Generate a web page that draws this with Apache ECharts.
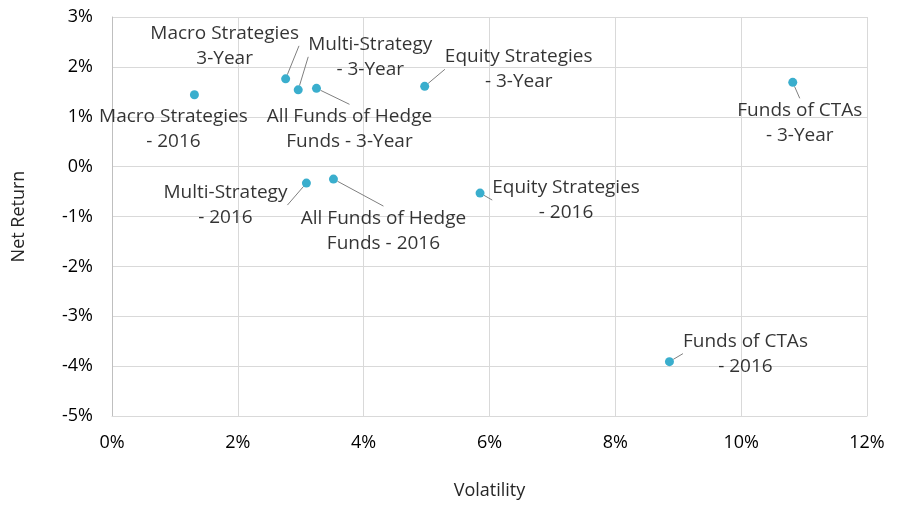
<!DOCTYPE html>
<html>
<head>
<meta charset="utf-8">
<title>Volatility vs Net Return</title>
<script src="https://cdn.jsdelivr.net/npm/echarts@6/dist/echarts.min.js"></script>
<style>
  html, body { margin: 0; padding: 0; background: #fff; }
  #chart { width: 898px; height: 505px; }
</style>
</head>
<body>
<div id="chart"></div>
<script>
// data (percent)
var names = [
  'Macro Strategies\n3-Year',
  'Multi-Strategy\n- 3-Year',
  'All Funds of Hedge\nFunds - 3-Year',
  'Equity Strategies\n- 3-Year',
  'Funds of CTAs\n- 3-Year',
  'Macro Strategies\n- 2016',
  'Multi-Strategy\n- 2016',
  'All Funds of Hedge\nFunds - 2016',
  'Equity Strategies\n- 2016',
  'Funds of CTAs\n- 2016'
];
var volatility = [2.76, 2.96, 3.25, 4.97, 10.82, 1.31, 3.09, 3.52, 5.85, 8.86];
var netReturn  = [1.76, 1.54, 1.57, 1.61, 1.69, 1.44, -0.33, -0.25, -0.53, -3.91];
var xTicks = { min: 0, max: 12, step: 2 };
var yTicks = { min: -5, max: 3, step: 1 };

// where each label sits relative to its dot (px)
var labelShift = [
  [-61, -33], [72, -33], [33, 41], [94, -17], [7, 41],
  [-21, 34], [-81, 22], [50, 52], [86, 7], [76, -8]
];
var noLeader = [5];

var font = 'Open Sans';
var ink = '#000';
var chart = echarts.init(document.getElementById('chart'));

var points = names.map(function (n, i) {
  var p = { name: n, value: [volatility[i], netReturn[i]] };
  if (noLeader.indexOf(i) >= 0) p.labelLine = { show: false };
  return p;
});

chart.setOption({
  animation: false,
  textStyle: { fontFamily: font },
  grid: { left: 112, right: 31, top: 17, bottom: 88 },
  xAxis: {
    type: 'value',
    min: xTicks.min, max: xTicks.max, interval: xTicks.step,
    name: 'Volatility',
    nameLocation: 'middle',
    nameGap: 66,
    nameTextStyle: { fontSize: 18, color: '#262626', fontFamily: font },
    axisLine: { show: true, onZero: false, lineStyle: { color: '#d9d9d9' } },
    axisTick: { show: false },
    axisLabel: { fontSize: 18, color: ink, margin: 18, formatter: '{value}%' },
    splitLine: { show: true, lineStyle: { color: '#d9d9d9' } }
  },
  yAxis: {
    type: 'value',
    min: yTicks.min, max: yTicks.max, interval: yTicks.step,
    name: 'Net Return',
    nameLocation: 'middle',
    nameGap: 84,
    nameTextStyle: { fontSize: 18, color: '#262626', fontFamily: font },
    axisLine: { show: true, lineStyle: { color: '#bfbfbf' } },
    axisTick: { show: false },
    axisLabel: { fontSize: 18, color: ink, margin: 19, formatter: '{value}%' },
    splitLine: { show: true, lineStyle: { color: '#d9d9d9' } }
  },
  series: [{
    type: 'scatter',
    symbolSize: 9,
    itemStyle: { color: '#099ac0' },
    data: points,
    label: {
      show: true,
      position: 'inside',
      formatter: function (p) { return p.name; },
      fontFamily: font,
      fontSize: 19,
      lineHeight: 25,
      color: ink,
      align: 'center',
      verticalAlign: 'middle'
    },
    labelLine: { show: true, lineStyle: { color: '#7f7f7f', width: 1 } },
    labelLayout: function (p) {
      var s = labelShift[p.dataIndex];
      return { dx: s[0], dy: s[1] };
    }
  }]
});
</script>
</body>
</html>
